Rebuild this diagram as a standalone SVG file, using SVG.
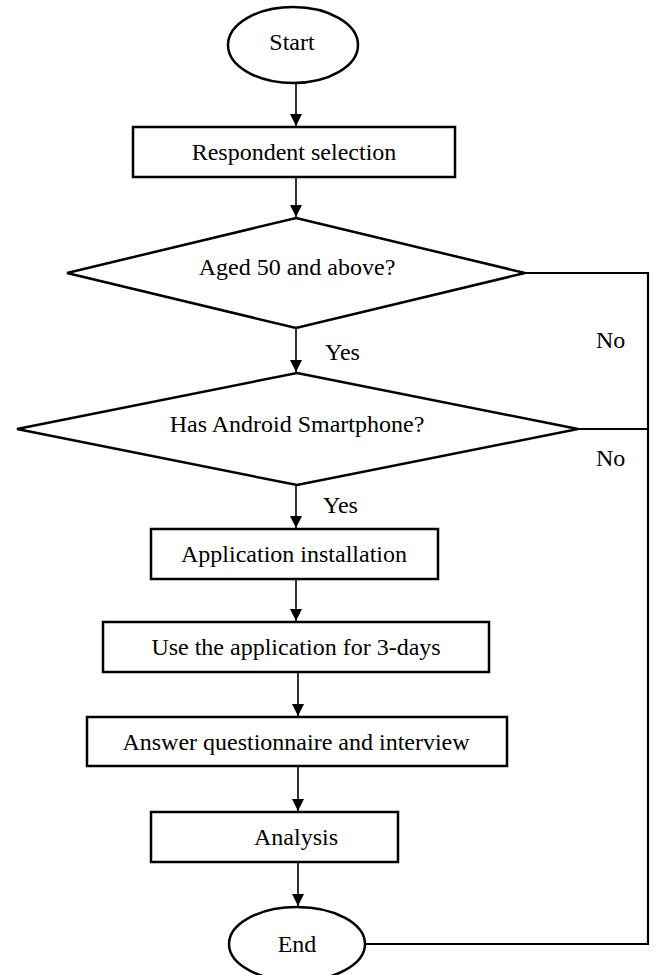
<svg xmlns="http://www.w3.org/2000/svg" width="654" height="975" viewBox="0 0 654 975">
<style>
.sh{fill:#fff;stroke:#000;stroke-width:2.5}
.t{font-family:"Liberation Serif","Times New Roman",serif;font-size:24px;fill:#000;text-anchor:middle}
.l{font-family:"Liberation Serif","Times New Roman",serif;font-size:24px;fill:#000}
.c{fill:none;stroke:#000;stroke-width:1.6}
.r{fill:none;stroke:#000;stroke-width:2.2}
</style>
<defs>
<marker id="ah" viewBox="0 0 12 14" refX="12" refY="6" markerWidth="12" markerHeight="14" markerUnits="userSpaceOnUse" orient="auto">
<path d="M0,0 L12,6 L0,12 Z" fill="#000"/>
</marker>
</defs>
<rect width="654" height="975" fill="#fff"/>
<g id="connectors">
<line class="c" x1="296" y1="83" x2="296" y2="126" marker-end="url(#ah)"/>
<line class="c" x1="296" y1="177" x2="296" y2="217" marker-end="url(#ah)"/>
<line class="c" x1="296" y1="328" x2="296" y2="372" marker-end="url(#ah)"/>
<line class="c" x1="296" y1="485" x2="296" y2="528" marker-end="url(#ah)"/>
<line class="c" x1="296" y1="579" x2="296" y2="621" marker-end="url(#ah)"/>
<line class="c" x1="298" y1="672" x2="298" y2="716" marker-end="url(#ah)"/>
<line class="c" x1="298" y1="766" x2="298" y2="811" marker-end="url(#ah)"/>
<line class="c" x1="298" y1="862" x2="298" y2="906" marker-end="url(#ah)"/>
<polyline class="r" points="365,944 648,944 648,273 525,273"/>
<line class="r" x1="578" y1="429" x2="648" y2="429"/>
<text class="l" x="325" y="360">Yes</text>
<text class="l" x="323" y="513">Yes</text>
<text class="l" x="596" y="348">No</text>
<text class="l" x="596" y="466">No</text>
</g>
<g id="start">
<ellipse class="sh" cx="293" cy="45" rx="65" ry="38"/>
<text class="t" x="292" y="50">Start</text>
</g>
<g id="respondent">
<rect class="sh" x="133" y="127" width="322" height="50"/>
<text class="t" x="294" y="160">Respondent selection</text>
</g>
<g id="aged">
<polygon class="sh" points="296,218 525,273 296,328 67,273"/>
<text class="t" x="297" y="275">Aged 50 and above?</text>
</g>
<g id="android">
<polygon class="sh" points="297,373 578,429 297,485 17,429"/>
<text class="t" x="297" y="432">Has Android Smartphone?</text>
</g>
<g id="install">
<rect class="sh" x="151" y="529" width="287" height="50"/>
<text class="t" x="294" y="562">Application installation</text>
</g>
<g id="use">
<rect class="sh" x="103" y="622" width="386" height="50"/>
<text class="t" x="296" y="655">Use the application for 3-days</text>
</g>
<g id="answer">
<rect class="sh" x="87" y="717" width="420" height="49"/>
<text class="t" x="296" y="750">Answer questionnaire and interview</text>
</g>
<g id="analysis">
<rect class="sh" x="151" y="812" width="247" height="50"/>
<text class="t" x="296" y="845">Analysis</text>
</g>
<g id="end">
<ellipse class="sh" cx="297" cy="944" rx="68" ry="37"/>
<text class="t" x="297" y="952">End</text>
</g>
</svg>
